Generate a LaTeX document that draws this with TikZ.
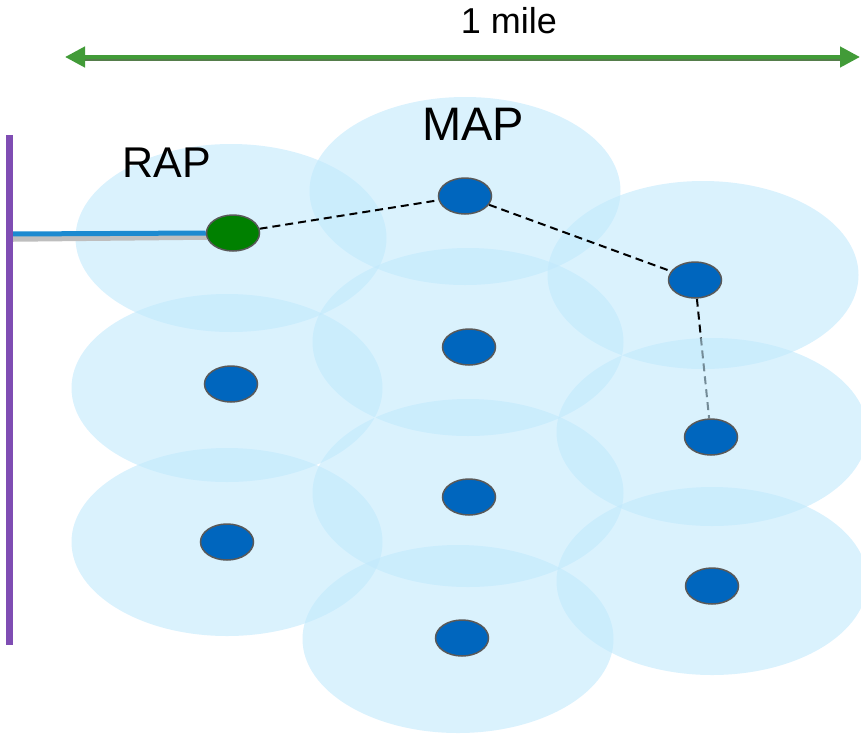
\documentclass[tikz,border=0pt]{standalone}
\usepackage{fontspec}
\setmainfont{Liberation Sans}
\usetikzlibrary{arrows.meta,shapes.geometric}
\definecolor{cellblue}{RGB}{193,233,252}
\definecolor{apblue}{RGB}{0,102,190}
\definecolor{rapgreen}{RGB}{0,128,0}
\definecolor{rimgrey}{RGB}{89,89,89}
\definecolor{wireblue}{RGB}{28,138,208}
\definecolor{wiregrey}{RGB}{190,190,190}
\definecolor{wallpurple}{RGB}{127,77,179}
\definecolor{rulegreen}{RGB}{66,155,56}
\definecolor{ruledark}{RGB}{85,125,75}
\pgfdeclarelayer{cells}
\pgfdeclarelayer{links}
\pgfdeclarelayer{over}
\pgfsetlayers{cells,links,over,main}

\begin{document}
\begin{tikzpicture}[x=1pt, y=-1pt,
  cell/.style={fill=cellblue, fill opacity=0.6},
  ap/.style={ellipse, draw=rimgrey, line width=1.5pt, fill=apblue,
             minimum width=53pt, minimum height=36pt, inner sep=0pt},
  lab/.style={anchor=base, text=black},
  link/.style={line width=2pt, dash pattern=on 8pt off 5pt},
  arr/.style={{Triangle[length=20pt,width=20pt]}-{Triangle[length=20pt,width=20pt]}}]
  \useasboundingbox (0,0) rectangle (861,734);

  % coverage cells
  \begin{pgfonlayer}{cells}
    \foreach \cx/\cy in {231/238, 227/388, 227/542, 465/191, 468/342, 468/493, 458/639, 703/275}
      \fill[cell] (\cx,\cy) ellipse [x radius=155.5pt, y radius=94pt];
  \end{pgfonlayer}
  \begin{pgfonlayer}{over}
    \foreach \cx/\cy in {712/432, 712/581}
      \fill[cell] (\cx,\cy) ellipse [x radius=155.5pt, y radius=94pt];
  \end{pgfonlayer}

  % access points
  \node[ap, fill=rapgreen] (rap) at (233,233) {};
  \node[ap] (map) at (465,196) {};
  \node[ap] (n12) at (231,384) {};
  \node[ap] (n13) at (227,542) {};
  \node[ap] (n22) at (469,347) {};
  \node[ap] (n23) at (469,497) {};
  \node[ap] (n24) at (462,638) {};
  \node[ap] (n31) at (695,280) {};
  \node[ap] (n32) at (711,437) {};
  \node[ap] (n33) at (712,586) {};

  % wired backhaul
  \coordinate (walltop) at (9,135);
  \coordinate (wallbot) at (9,645);
  \coordinate (jack) at (12,234);
  \draw[wallpurple, line width=7pt] (walltop) -- (wallbot);
  \begin{pgfonlayer}{links}
    \draw[wiregrey, line width=5.5pt] ([shift={(1,5)}]jack) -- ([shift={(1,4)}]rap.west);
    \draw[wireblue, line width=5pt] (jack) -- (rap.west);
    % mesh hops
    \draw[link] (rap) -- (map);
    \draw[link] (map) -- (n31);
    \draw[link] (n31) -- (n32);
  \end{pgfonlayer}

  % scale bar
  \coordinate (mileL) at (65,57);
  \coordinate (mileR) at (860,57);
  \draw[ruledark, line width=3.5pt, shorten <=16pt, shorten >=16pt]
    ([shift={(0,2.5)}]mileL) -- ([shift={(0,2.5)}]mileR);
  \draw[rulegreen, line width=4.5pt, arr] (mileL) -- (mileR);

  \node[lab, font=\fontsize{36}{40}\selectfont] (mile) at (509,33) {1 mile};
  \node[lab, font=\fontsize{43}{46}\selectfont] (raplab) at (167,177) {RAP};
  \node[lab, font=\fontsize{47}{50}\selectfont] (maplab) at (473,140) {MAP};
\end{tikzpicture}
\end{document}
